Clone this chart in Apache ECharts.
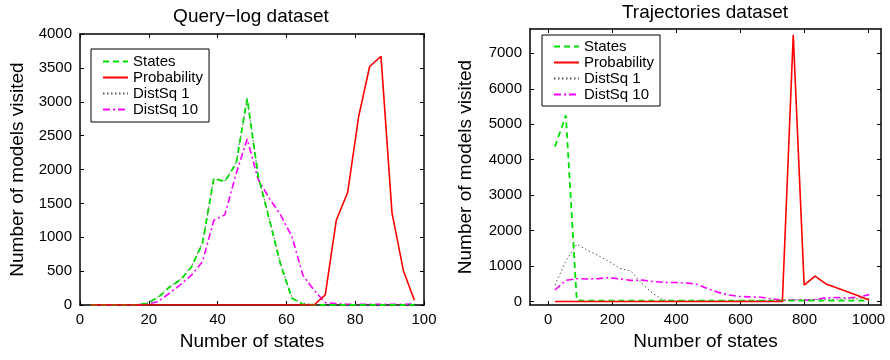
<!DOCTYPE html>
<html lang="en">
  <head>
    <meta charset="UTF-8" />
    <title>Models visited</title>
    <script src="https://cdn.jsdelivr.net/npm/echarts@6/dist/echarts.min.js"></script>
    <style>
      body { margin: 0; background: #fff; }
      .panel { position: absolute; top: 0; width: 445px; height: 360px; }
    </style>
  </head>
  <body>
    <div id="left" class="panel" style="left: 0"></div>
    <div id="right" class="panel" style="left: 445px"></div>
    <script type="text/javascript">
      // Query-log dataset
      const queryX = [3.2, 6.5, 9.7, 13.0, 16.2, 19.4, 22.7, 25.9, 29.2, 32.4, 35.6, 38.9, 42.1, 45.4, 48.6,
        51.8, 55.1, 58.3, 61.6, 64.8, 68.0, 71.3, 74.5, 77.8, 81.0, 84.2, 87.5, 90.7, 94.0, 97.2];
      const queryStates = [0, 0, 0, 0, 5, 20, 110, 260, 370, 560, 910, 1870, 1820, 2090, 3050,
        1900, 1250, 600, 100, 10, 0, 0, 0, 0, 0, 0, 0, 0, 0, 0];
      const queryProb = [0, 0, 0, 0, 0, 0, 0, 0, 0, 0, 0, 0, 0, 0, 0,
        0, 0, 0, 0, 0, 0, 150, 1250, 1660, 2780, 3520, 3670, 1360, 510, 70];
      const queryDist1 = [0, 0, 0, 0, 5, 25, 120, 270, 380, 570, 920, 1860, 1830, 2100, 3040,
        1910, 1260, 610, 110, 20, 10, 5, 5, 5, 5, 5, 5, 5, 5, 5];
      const queryDist10 = [0, 0, 0, 0, 0, 10, 50, 170, 300, 440, 640, 1250, 1330, 1940, 2450,
        1850, 1570, 1330, 1010, 440, 220, 35, 20, 10, 10, 10, 10, 10, 10, 15];

      // Trajectories dataset
      const trajX = [21, 55, 89, 122, 156, 190, 224, 258, 292, 325, 359, 393, 427, 461, 495,
        528, 562, 596, 630, 664, 697, 731, 765, 799, 833, 867, 900, 934, 968, 1002];
      const trajStates = [4370, 5250, 40, 30, 30, 30, 30, 30, 30, 30, 30, 30, 30, 30, 30,
        30, 30, 30, 30, 30, 30, 30, 30, 30, 30, 30, 30, 30, 30, 30];
      const trajProb = [5, 5, 5, 5, 5, 5, 5, 5, 5, 5, 5, 5, 5, 5, 5,
        5, 5, 5, 5, 5, 5, 5, 7520, 470, 720, 500, 390, 280, 165, 50];
      const trajDist1 = [470, 1150, 1620, 1450, 1300, 1130, 940, 865, 520, 240, 50, 30, 25, 25, 25,
        25, 25, 25, 25, 30, 30, 40, 50, 60, 60, 70, 70, 80, 80, 90];
      const trajDist10 = [330, 600, 650, 640, 650, 680, 640, 600, 610, 570, 545, 540, 530, 500, 380,
        270, 190, 150, 135, 125, 80, 40, 50, 40, 60, 110, 120, 100, 130, 200];

      const legendNames = ["States", "Probability", "DistSq 1", "DistSq 10"];
      const trajXTicks = [0, 200, 400, 600, 800, 1000];
      const trajYTicks = [0, 1000, 2000, 3000, 4000, 5000, 6000, 7000];

      const font = "Liberation Sans, Arial, Helvetica, sans-serif";

      function pairs(xs, ys) {
        return xs.map((x, i) => [x, ys[i]]);
      }

      function lines(xs, states, prob, d1, d10) {
        const base = { type: "line", symbol: "none", showSymbol: false, animation: false };
        return [
          { ...base, name: "DistSq 10", data: pairs(xs, d10), color: "#ff00ff",
            lineStyle: { color: "#ff00ff", width: 1.6, type: [7, 3, 2, 3] } },
          { ...base, name: "DistSq 1", data: pairs(xs, d1), color: "#555",
            lineStyle: { color: "#555", width: 1, type: [1.5, 2.5] } },
          { ...base, name: "States", data: pairs(xs, states), color: "#00e000",
            lineStyle: { color: "#00e000", width: 1.8, type: [6, 4] } },
          { ...base, name: "Probability", data: pairs(xs, prob), color: "#ff0000",
            lineStyle: { color: "#ff0000", width: 1.6 } },
        ];
      }

      function axisPair(kind, opts) {
        const line = { show: true, onZero: false, lineStyle: { color: "#000", width: 1.5 } };
        const tick = { show: true, inside: true, length: 4, lineStyle: { color: "#000", width: 1 } };
        const main = {
          type: "value", min: opts.min, max: opts.max, interval: opts.interval,
          axisLine: line, axisTick: { ...tick }, splitLine: { show: false },
          axisLabel: { color: "#000", fontFamily: font, fontSize: 15, margin: opts.margin,
            formatter: (v) => String(v) },
          name: opts.name, nameLocation: "middle", nameGap: opts.nameGap,
          nameTextStyle: { color: "#000", fontFamily: font, fontSize: 19 },
        };
        if (opts.ticks) {
          main.axisTick.customValues = opts.ticks;
          main.axisLabel.customValues = opts.ticks;
        }
        const mirror = {
          type: "value", min: opts.min, max: opts.max, interval: opts.interval,
          position: kind === "x" ? "top" : "right",
          axisLine: line, axisTick: { ...tick }, axisLabel: { show: false }, splitLine: { show: false },
        };
        if (opts.ticks) mirror.axisTick.customValues = opts.ticks;
        return [main, mirror];
      }

      function legendBox(left, top, padding) {
        return {
          data: legendNames, orient: "vertical", left: left, top: top,
          itemWidth: 25, itemHeight: 14, itemGap: 1, padding: padding,
          borderColor: "#000", borderWidth: 1, backgroundColor: "#fff",
          itemStyle: { opacity: 0 },
          textStyle: { color: "#000", fontFamily: font, fontSize: 15 },
          selectedMode: false,
        };
      }

      function titleText(x, y, text) {
        return {
          type: "text", x: x, y: y,
          style: { text: text, fill: "#000", font: "19px " + font, textAlign: "center", textVerticalAlign: "middle" },
        };
      }

      const leftChart = echarts.init(document.getElementById("left"));
      leftChart.setOption({
        animation: false,
        grid: { left: 78, top: 34, width: 346, height: 271 },
        xAxis: axisPair("x", { min: 0, max: 100, interval: 20, margin: 7, name: "Number of states", nameGap: 26 }),
        yAxis: axisPair("y", { min: 0, max: 4000, interval: 500, margin: 8, name: "Number of models visited", nameGap: 53 }),
        legend: legendBox(91, 49, [5, 6, 5, 11]),
        graphic: [titleText(251, 17, "Query\u2212log dataset")],
        series: lines(queryX, queryStates, queryProb, queryDist1, queryDist10),
      });

      const rightChart = echarts.init(document.getElementById("right"));
      rightChart.setOption({
        animation: false,
        grid: { left: 85, top: 29, width: 351, height: 276 },
        xAxis: axisPair("x", { min: -57, max: 1039, ticks: trajXTicks, margin: 7, name: "Number of states", nameGap: 26 }),
        yAxis: axisPair("y", { min: -93, max: 7684, ticks: trajYTicks, margin: 8, name: "Number of models visited", nameGap: 55 }),
        legend: legendBox(97, 35, [4, 6, 4, 11]),
        graphic: [titleText(260, 13, "Trajectories dataset")],
        series: lines(trajX, trajStates, trajProb, trajDist1, trajDist10),
      });
    </script>
  </body>
</html>
